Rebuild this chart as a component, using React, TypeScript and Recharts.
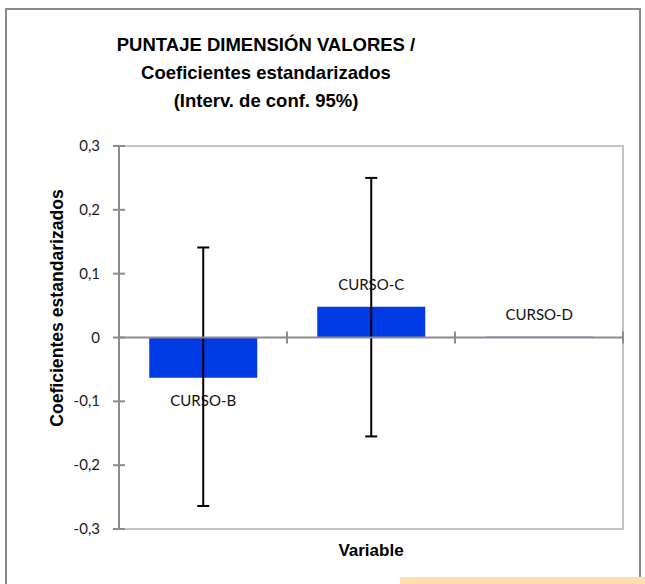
import React from 'react';
import { BarChart, Bar, XAxis, YAxis, ErrorBar, ReferenceLine, ReferenceArea, LabelList } from 'recharts';

const categories = ['CURSO-B', 'CURSO-C', 'CURSO-D'];
const coefficients = [-0.063, 0.048, 0.001];
const ciLower = [-0.264, -0.155, 0.001];
const ciUpper = [0.141, 0.25, 0.001];
const yTicks = [-0.3, -0.2, -0.1, 0, 0.1, 0.2, 0.3];
const titleLines = ['PUNTAJE DIMENSIÓN VALORES /', 'Coeficientes estandarizados', '(Interv. de conf. 95%)'];
const yAxisTitle = 'Coeficientes estandarizados';
const xAxisTitle = 'Variable';

const data = categories.map((c, i) => ({
  name: c,
  value: coefficients[i],
  err: ciLower[i] === ciUpper[i] ? null : [coefficients[i] - ciLower[i], ciUpper[i] - coefficients[i]],
}));

const AXIS = '#8c8c8c';
const TICK_SIZE = 6;
const TICK_MARGIN = 13;
const LABEL_FONT = 'Lato, "Noto Sans", sans-serif';
const BOLD_FONT = '"Liberation Sans", Arial, sans-serif';

const YTick = (props: any) => {
  const { x, y, payload } = props;
  const ax = x + TICK_SIZE + TICK_MARGIN;
  const v = payload.value;
  const label = v === 0 ? '0' : String(v).replace('.', ',');
  return (
    <g>
      <line x1={ax - 6} x2={ax + 6} y1={y} y2={y} stroke={AXIS} strokeWidth={2} />
      <text x={x} y={y} dy={5} textAnchor="end" fontFamily={LABEL_FONT} fontSize={15} fill="#1a1a1a">
        {label}
      </text>
    </g>
  );
};

const ZeroAxis = (props: any) => {
  const { x1, y1, x2, y2 } = props;
  const n = categories.length;
  const ticks = [];
  for (let k = 1; k <= n; k++) {
    const x = x1 + ((x2 - x1) * k) / n;
    ticks.push(<line key={k} x1={x} x2={x} y1={y1 - 6} y2={y1 + 6} stroke={AXIS} strokeWidth={2} />);
  }
  return (
    <g>
      <line x1={x1} y1={y1} x2={x2} y2={y2} stroke={AXIS} strokeWidth={2} />
      {ticks}
    </g>
  );
};

const BarLabel = (props: any) => {
  const { x, y, width, height, index } = props;
  const v = coefficients[index];
  const top = Math.min(y, y + height);
  const bottom = Math.max(y, y + height);
  const cx = x + width / 2;
  const ty = v < 0 ? bottom + 28 : top - 17;
  return (
    <text x={cx} y={ty} textAnchor="middle" fontFamily={LABEL_FONT} fontSize={15} fill="#111">
      {categories[index]}
    </text>
  );
};

const YTitle = () => {
  const cx = 57;
  const cy = 308;
  return (
    <text
      x={cx}
      y={cy}
      transform={`rotate(-90, ${cx}, ${cy})`}
      textAnchor="middle"
      dominantBaseline="central"
      fontFamily={BOLD_FONT}
      fontWeight="bold"
      fontSize={17.6}
      fill="#000"
    >
      {yAxisTitle}
    </text>
  );
};

const XTitle = (props: any) => {
  const vb = props.viewBox || {};
  const cx = vb.x + vb.width / 2;
  return (
    <text x={cx} y={vb.y + 27} textAnchor="middle" fontFamily={BOLD_FONT} fontWeight="bold" fontSize={17} fill="#000">
      {xAxisTitle}
    </text>
  );
};

export default function App() {
  return (
    <div style={{ position: 'absolute', left: 0, top: 0, width: 645, height: 584, overflow: 'hidden', background: '#fff' }}>
      <div
        style={{
          position: 'absolute',
          left: 5,
          top: 8,
          width: 636,
          height: 620,
          border: '2px solid #8a8a8a',
          boxSizing: 'border-box',
        }}
      />
      <div
        style={{
          position: 'absolute',
          left: 66,
          top: 31,
          width: 400,
          textAlign: 'center',
          fontFamily: BOLD_FONT,
          fontWeight: 'bold',
          fontSize: 18.5,
          lineHeight: '28px',
          color: '#000',
        }}
      >
        {titleLines.map((t) => (
          <div key={t}>{t}</div>
        ))}
      </div>
      <div style={{ position: 'absolute', left: 400, top: 577, width: 245, height: 7, background: '#fde0ae' }} />
      <div style={{ position: 'absolute', left: 0, top: 0 }}>
        <BarChart
          width={645}
          height={584}
          data={data}
          margin={{ top: 146, right: 22, bottom: 0, left: 0 }}
          barCategoryGap="18%"
        >
          <ReferenceArea y1={-0.3} y2={0.3} fill="none" stroke="#c4c4c4" strokeWidth={2} ifOverflow="visible" />
          <XAxis
            dataKey="name"
            tick={false}
            axisLine={false}
            tickLine={false}
            height={55}
            label={<XTitle />}
          />
          <YAxis
            type="number"
            domain={[-0.3, 0.3]}
            ticks={yTicks}
            width={119}
            tickSize={TICK_SIZE}
            tickMargin={TICK_MARGIN}
            tickLine={false}
            axisLine={{ stroke: AXIS, strokeWidth: 2 }}
            tick={<YTick />}
            interval={0}
            allowDataOverflow
            label={<YTitle />}
          />
          <Bar dataKey="value" fill="#003be6" isAnimationActive={false}>
            <ErrorBar dataKey="err" width={6} stroke="#000" strokeWidth={2} direction="y" />
            <LabelList dataKey="value" content={<BarLabel />} />
          </Bar>
          <ReferenceLine y={0} shape={<ZeroAxis />} />
        </BarChart>
      </div>
    </div>
  );
}
